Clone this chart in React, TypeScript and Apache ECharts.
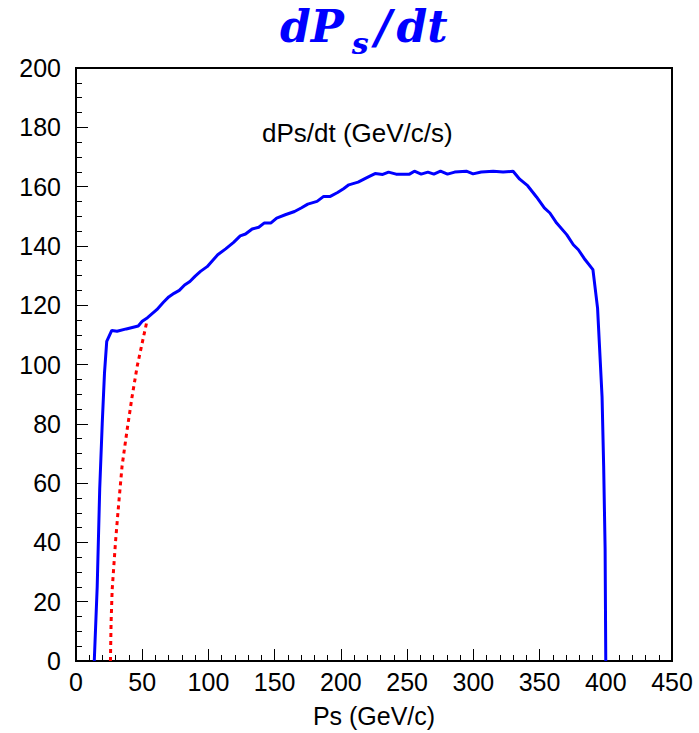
import React, { useEffect, useRef } from "react";
import * as echarts from "echarts";

// Blue curve: dPs/dt vs Ps
const blueX = [13.8, 16, 17.9, 19.8, 21.5, 23.2, 27, 31, 38, 47, 50, 54, 61, 66, 70, 74, 78, 82, 86, 90, 94, 99, 103, 107, 113, 119, 124, 128, 133, 138, 142, 147, 151.5, 158, 165, 170, 175, 182, 187, 192, 197.5, 202, 206, 213, 220, 225.8, 231.6, 236, 241.7, 251.8, 255.5, 260.6, 265.7, 270.2, 275.2, 280.5, 285.9, 294.7, 299.8, 306, 315, 322.5, 330, 335, 341, 347.7, 353.6, 357.8, 362.9, 370.5, 375.5, 379.3, 384.3, 390.3, 393.8, 397.2, 398.4, 399.5, 400];
const blueY = [0, 25, 58, 80, 97, 107.8, 111.5, 111.2, 112, 113, 114.6, 115.8, 118.5, 121, 122.8, 124, 125, 126.8, 128, 129.8, 131.4, 133, 135, 137, 139, 141.2, 143.4, 144, 145.7, 146.3, 147.7, 147.7, 149.4, 150.5, 151.6, 152.8, 154.1, 155, 156.7, 156.7, 158, 159.3, 160.6, 161.5, 163.1, 164.4, 164.1, 164.9, 164.2, 164.2, 165.2, 164.2, 164.9, 164.2, 165.2, 164.2, 164.9, 165.2, 164.3, 164.9, 165.2, 164.9, 165.2, 162.5, 160.3, 156.5, 152.8, 151.1, 147.7, 143.8, 140.4, 138.7, 135.4, 132, 119, 89, 65.8, 37.7, 0];

// Red dotted curve
const redX = [26, 26.5, 27.3, 29.8, 32.3, 34.8, 38.6, 42.4, 46.2, 50, 53.5];
const redY = [0, 13, 24, 40, 53.4, 65.8, 78, 89.3, 99.4, 107.3, 114.5];

const xTicks = { min: 0, max: 450, interval: 50 };
const yTicks = { min: 0, max: 200, interval: 20 };

const SANS = "'Liberation Sans', Arial, Helvetica, sans-serif";
const SERIF = "'DejaVu Serif', serif";

export default function App() {
  const ref = useRef<HTMLDivElement>(null);
  useEffect(() => {
    if (!ref.current) return;
    const chart = echarts.init(ref.current, null, { renderer: "svg" });
    const blue = blueX.map((x, i) => [x, blueY[i]]);
    const red = redX.map((x, i) => [x, redY[i]]);
    const mathBase = {
      fontFamily: SERIF,
      fontStyle: "italic",
      fontWeight: "bold",
      color: "#0000ff",
      verticalAlign: "top",
      lineHeight: 44,
    };
    chart.setOption({
      animation: false,
      backgroundColor: "#fff",
      title: {
        text: "{i|d}{p|P}{sub|s}{sl|/}{i|dt}",
        left: 280,
        top: 4,
        padding: 0,
        textStyle: {
          rich: {
            i: { ...mathBase, fontSize: 44 },
            p: { ...mathBase, fontSize: 44, padding: [0, 8, 0, 0] },
            sub: { ...mathBase, fontSize: 30, padding: [24, 6, 0, 0] },
            sl: { ...mathBase, fontSize: 46, padding: [0, 5, 0, 0] },
          },
        },
      },
      grid: {
        left: 76,
        right: 27,
        top: 68,
        bottom: 71,
        show: true,
        borderColor: "#000",
        borderWidth: 2,
        backgroundColor: "transparent",
      },
      xAxis: {
        type: "value",
        min: xTicks.min,
        max: xTicks.max,
        interval: xTicks.interval,
        name: "Ps (GeV/c)",
        nameLocation: "middle",
        nameGap: 42,
        nameTextStyle: { fontFamily: SANS, fontSize: 25, color: "#000" },
        axisLine: { show: true, lineStyle: { color: "#000", width: 2 } },
        axisTick: { show: true, inside: true, length: 12, lineStyle: { color: "#000", width: 1 } },
        minorTick: { show: true, splitNumber: 5, length: 6, lineStyle: { color: "#000", width: 1 } },
        splitLine: { show: false },
        axisLabel: { fontFamily: SANS, fontSize: 25, color: "#000", margin: 8 },
      },
      yAxis: {
        type: "value",
        min: yTicks.min,
        max: yTicks.max,
        interval: yTicks.interval,
        axisLine: { show: true, lineStyle: { color: "#000", width: 2 } },
        axisTick: { show: true, inside: true, length: 12, lineStyle: { color: "#000", width: 1 } },
        minorTick: { show: true, splitNumber: 4, length: 6, lineStyle: { color: "#000", width: 1 } },
        splitLine: { show: false },
        axisLabel: { fontFamily: SANS, fontSize: 25, color: "#000", margin: 15 },
      },
      graphic: [
        {
          type: "text",
          left: 262,
          top: 120,
          style: {
            text: "dPs/dt (GeV/c/s)",
            font: "26px 'Liberation Sans', Arial, sans-serif",
            fill: "#000",
          },
        },
      ],
      series: [
        {
          type: "line",
          data: blue,
          showSymbol: false,
          symbol: "none",
          lineStyle: { color: "#0000ff", width: 3 },
          z: 3,
        },
        {
          type: "line",
          data: red,
          showSymbol: false,
          symbol: "none",
          lineStyle: { color: "#ff0000", width: 3, type: [4, 4] },
          z: 2,
        },
      ],
    });
    return () => chart.dispose();
  }, []);
  return (
    <div
      ref={ref}
      style={{ position: "fixed", left: 0, top: 0, width: 699, height: 733, background: "#fff" }}
    />
  );
}
